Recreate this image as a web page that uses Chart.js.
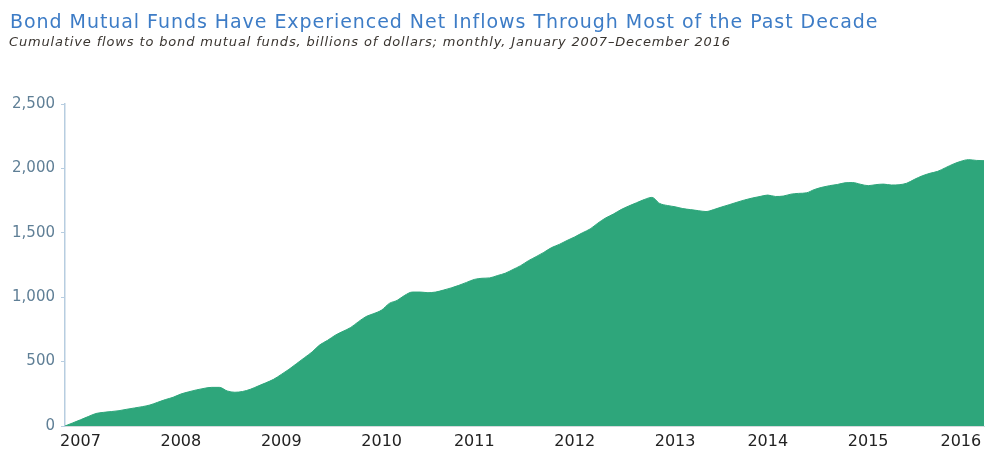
<!DOCTYPE html>
<html>
<head>
<meta charset="utf-8">
<script src="https://cdn.jsdelivr.net/npm/chart.js@4.4.1/dist/chart.umd.min.js"></script>
<style>
  html, body { margin: 0; padding: 0; background: #ffffff; }
  #wrap { width: 990px; height: 450px; position: relative; }
  #c { position: absolute; left: 0; top: 0; }
  .title { position: absolute; left: 10px; top: 12px; font-family: 'DejaVu Sans', sans-serif; font-size: 19px; line-height: 19px; letter-spacing: 0.95px; color: #3d7cc6; white-space: nowrap; }
  .subtitle { position: absolute; left: 9px; top: 35px; font-family: 'DejaVu Sans', sans-serif; font-style: italic; font-size: 13px; line-height: 13px; letter-spacing: 0.85px; color: #3a3530; white-space: nowrap; }
</style>
</head>
<body>
<div id="wrap">
  <canvas id="c" width="990" height="450"></canvas>
  <div class="title">Bond Mutual Funds Have Experienced Net Inflows Through Most of the Past Decade</div>
  <div class="subtitle">Cumulative flows to bond mutual funds, billions of dollars; monthly, January 2007–December 2016</div>
</div>
<script>
// Cumulative flows to bond mutual funds, billions of dollars, monthly Jan 2007 - Dec 2016
const years = [2007, 2008, 2009, 2010, 2011, 2012, 2013, 2014, 2015, 2016];
const cumulativeFlows = [
  0, 24, 48, 73, 97, 106, 112, 119, 130, 140, 150, 163,          // 2007
  184, 205, 223, 248, 265, 280, 292, 300, 300, 272, 262, 268,    // 2008
  285, 310, 335, 362, 400, 440, 485, 530, 575, 630, 665, 705,    // 2009
  735, 765, 810, 850, 873, 900, 952, 975, 1015, 1040, 1040, 1035, // 2010
  1040, 1055, 1072, 1092, 1115, 1138, 1147, 1150, 1168, 1186, 1215, 1245, // 2011
  1283, 1315, 1348, 1385, 1410, 1440, 1468, 1500, 1530, 1575, 1615, 1645, // 2012
  1680, 1708, 1733, 1758, 1775, 1728, 1712, 1702, 1688, 1680, 1672, 1665, // 2013
  1680, 1700, 1718, 1737, 1755, 1770, 1782, 1793, 1782, 1785, 1800, 1806, // 2014
  1810, 1835, 1853, 1866, 1875, 1888, 1890, 1877, 1866, 1874, 1878, 1871, // 2015
  1873, 1885, 1915, 1942, 1962, 1977, 2005, 2033, 2055, 2068, 2062, 2060  // 2016
];
// Month index under which each year label sits in the reference
const yearLabelIndex = [2, 15, 28, 41, 53, 66, 79, 91, 104, 116];
const yTicks = [0, 500, 1000, 1500, 2000, 2500];

const monthLabels = [];
years.forEach(y => { for (let m = 1; m <= 12; m++) monthLabels.push(y + '-' + String(m).padStart(2, '0')); });

const yearAt = {};
yearLabelIndex.forEach((idx, k) => { yearAt[idx] = String(years[k]); });

new Chart(document.getElementById('c'), {
  type: 'line',
  data: {
    labels: monthLabels,
    datasets: [{
      data: cumulativeFlows,
      fill: 'origin',
      backgroundColor: '#2ea67b',
      borderColor: '#2ea67b',
      borderWidth: 1,
      pointRadius: 0,
      tension: 0.35,
      cubicInterpolationMode: 'monotone'
    }]
  },
  options: {
    responsive: false,
    animation: false,
    layout: { padding: { left: 10, right: 3, top: 104, bottom: 0 } },
    plugins: {
      legend: { display: false },
      tooltip: { enabled: false },
      title: { display: false },
      subtitle: { display: false }
    },
    scales: {
      x: {
        type: 'category',
        offset: false,
        grid: { display: false, drawTicks: false },
        border: { display: true, color: '#d5dadd', width: 1 },
        ticks: {
          autoSkip: false,
          maxRotation: 0,
          minRotation: 0,
          padding: 6,
          color: '#222222',
          font: { family: 'DejaVu Sans', size: 16 },
          callback: (v, i) => yearAt[i] || ''
        },
        afterFit: s => { s.height = 24; }
      },
      y: {
        min: 0,
        max: 2500,
        afterBuildTicks: s => { s.ticks = yTicks.map(v => ({ value: v })); },
        grid: { drawOnChartArea: false, drawTicks: true, tickLength: 4, color: '#b7cde0' },
        border: { display: true, color: '#b7cde0', width: 1.5 },
        ticks: {
          padding: 6,
          color: '#5f7f96',
          font: { family: 'DejaVu Sans', size: 15 },
          callback: v => v.toLocaleString('en-US')
        },
        afterFit: s => { s.width = 55; }
      }
    }
  }
});
</script>
</body>
</html>
